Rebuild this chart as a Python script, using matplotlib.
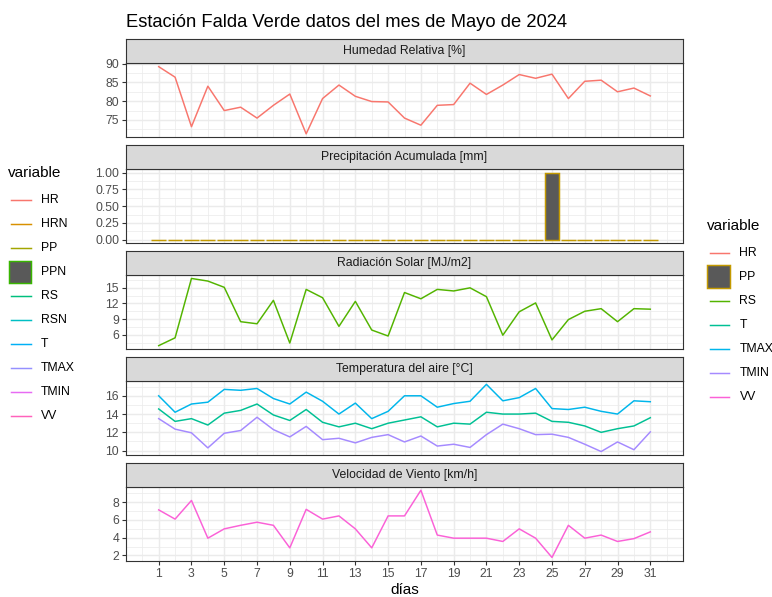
import matplotlib
matplotlib.use('Agg')
import matplotlib.pyplot as plt
from matplotlib.ticker import FixedLocator, MultipleLocator
from matplotlib.lines import Line2D
from matplotlib.patches import Rectangle

plt.rcParams['font.family'] = ['Liberation Sans', 'DejaVu Sans']

# ---------------- data ----------------
days = list(range(1, 32))
hr = [89.2, 86.4, 73.2, 84.0, 77.5, 78.4, 75.5, 78.9, 81.9, 71.3,
      80.7, 84.3, 81.3, 79.9, 79.8, 75.5, 73.6, 78.9, 79.1, 84.8,
      81.8, 84.3, 87.1, 86.1, 87.2, 80.7, 85.3, 85.6, 82.5, 83.5, 81.4]
pp = [0.0] * 24 + [1.0] + [0.0] * 6
rs = [3.9, 5.4, 16.8, 16.3, 15.1, 8.5, 8.1, 12.6, 4.4, 14.7,
      13.1, 7.6, 12.4, 6.9, 5.75, 14.1, 12.9, 14.7, 14.4, 15.0,
      13.3, 5.9, 10.4, 12.1, 5.0, 8.9, 10.5, 11.0, 8.5, 11.0, 10.9]
tmax = [16.0, 14.2, 15.1, 15.3, 16.7, 16.6, 16.8, 15.7, 15.1, 16.4,
        15.4, 14.0, 15.2, 13.5, 14.3, 16.0, 16.0, 14.75, 15.15, 15.4,
        17.25, 15.45, 15.8, 16.8, 14.6, 14.5, 14.75, 14.3, 14.0, 15.45, 15.35]
t = [14.56, 13.2, 13.5, 12.8, 14.1, 14.4, 15.1, 13.9, 13.3, 14.5,
     13.1, 12.6, 13.0, 12.4, 13.0, 13.35, 13.7, 12.6, 13.0, 12.9,
     14.2, 14.0, 14.0, 14.1, 13.2, 13.1, 12.7, 12.0, 12.4, 12.7, 13.6]
tmin = [13.5, 12.35, 11.95, 10.3, 11.9, 12.2, 13.65, 12.3, 11.5, 12.65,
        11.2, 11.35, 10.85, 11.45, 11.75, 10.95, 11.6, 10.5, 10.7, 10.35,
        11.75, 12.9, 12.4, 11.75, 11.8, 11.45, 10.7, 9.9, 10.95, 10.1, 12.05]
vv = [7.14, 6.1, 8.2, 3.95, 5.0, 5.4, 5.75, 5.4, 2.86, 7.2,
      6.1, 6.46, 5.0, 2.86, 6.46, 6.46, 9.35, 4.3, 3.95, 3.95,
      3.95, 3.58, 5.0, 3.95, 1.78, 5.4, 3.95, 4.3, 3.58, 3.9, 4.66]

panel_titles = ["Humedad Relativa [%]", "Precipitación Acumulada [mm]",
                "Radiación Solar [MJ/m2]", "Temperatura del aire [°C]",
                "Velocidad de Viento [km/h]"]
yticks = [[75, 80, 85, 90], [0.0, 0.25, 0.5, 0.75, 1.0], [6, 9, 12, 15],
          [10, 12, 14, 16], [2, 4, 6, 8]]
xticks = list(range(1, 32, 2))

left_vars = ['HR', 'HRN', 'PP', 'PPN', 'RS', 'RSN', 'T', 'TMAX', 'TMIN', 'VV']
left_cols = ['#F8766D', '#D89000', '#A3A500', '#39B600', '#00BF7D',
             '#00BFC4', '#00B0F6', '#9590FF', '#E76BF3', '#FF62BC']
right_vars = ['HR', 'PP', 'RS', 'T', 'TMAX', 'TMIN', 'VV']
right_cols = ['#F8766D', '#C49A00', '#53B400', '#00C094', '#00B6EB',
              '#A58AFF', '#FB61D7']
col = dict(zip(right_vars, right_cols))

# ---------------- layout ----------------
W, H = 772, 597
fig = plt.figure(figsize=(W / 100, H / 100), dpi=100)
fig.patch.set_facecolor('white')

L, R = 126, 683
top0, strip_h, panel_h, gap = 39.3, 24.0, 73.9, 8.0
BORDER = '#333333'
GRID = '#EBEBEB'
LW = 1.07


def fx(x):
    return x / W


def fy(y):
    return 1 - y / H


series = [
    [(hr, col['HR'])],
    None,
    [(rs, col['RS'])],
    [(tmax, col['TMAX']), (t, col['T']), (tmin, col['TMIN'])],
    [(vv, col['VV'])],
]

for i in range(5):
    st = top0 + i * (strip_h + panel_h + gap)
    pt = st + strip_h
    pb = pt + panel_h
    ax = fig.add_axes([fx(L), fy(pb), (R - L) / W, panel_h / H])
    sax = fig.add_axes([fx(L), fy(pt), (R - L) / W, strip_h / H])

    # strip
    sax.set_facecolor('#D9D9D9')
    sax.set_xticks([])
    sax.set_yticks([])
    for s in sax.spines.values():
        s.set_color(BORDER)
        s.set_linewidth(0.8)
    sax.text(0.5, 0.5, panel_titles[i], ha='center', va='center',
             size=8.8, color='#1A1A1A', transform=sax.transAxes)

    ax.set_axisbelow(True)
    if series[i] is None:
        ax.bar(days, pp, width=0.9, color='#595959', edgecolor=col['PP'],
               linewidth=LW, zorder=2)
        lo, hi = 0.0, max(pp)
    else:
        allv = []
        for vals, c in series[i]:
            ax.plot(days, vals, color=c, lw=LW, solid_joinstyle='round', zorder=2)
            allv += vals
        lo, hi = min(allv), max(allv)
    rng = hi - lo
    ax.set_ylim(lo - 0.05 * rng, hi + 0.05 * rng)
    ax.set_xlim(-0.995, 32.995)

    yt = yticks[i]
    step = yt[1] - yt[0]
    ax.yaxis.set_major_locator(FixedLocator(yt))
    ax.yaxis.set_minor_locator(MultipleLocator(step / 2))
    if i == 1:
        ax.set_yticklabels([f"{v:.2f}" for v in yt])
    else:
        ax.set_yticklabels([f"{v:g}" for v in yt])
    ax.xaxis.set_major_locator(FixedLocator(xticks))
    ax.xaxis.set_minor_locator(FixedLocator(list(range(0, 33, 2))))

    ax.grid(which='major', color=GRID, lw=LW)
    ax.grid(which='minor', color=GRID, lw=LW / 2)
    ax.tick_params(which='minor', length=0)
    ax.tick_params(which='major', length=2.75, width=0.8, color=BORDER,
                   labelsize=8.8, labelcolor='#4D4D4D', pad=2.2)
    for s in ax.spines.values():
        s.set_color(BORDER)
        s.set_linewidth(0.8)
    if i < 4:
        ax.tick_params(axis='x', which='both', bottom=False, labelbottom=False)
    else:
        ax.set_xticklabels([str(d) for d in xticks])

# titles
fig.text(fx(126.5), fy(27.3), "Estación Falda Verde datos del mes de Mayo de 2024",
         ha='left', va='baseline', size=13.2, color='black')
fig.text(fx((L + R) / 2), fy(590), "días", ha='center', va='center',
         size=11, color='black')


# ---------------- legends ----------------
def draw_legend(x0, title_y, first_y, names, colors, box_name):
    fig.text(fx(x0), fy(title_y), "variable", ha='left', va='center', size=11)
    for k, (n, c) in enumerate(zip(names, colors)):
        y = first_y + 24 * k
        if n == box_name:
            fig.add_artist(Rectangle((fx(x0 + 0.3), fy(y + 11.3)), 22.6 / W, 22.6 / H,
                                     facecolor='#595959', edgecolor=c, lw=LW,
                                     transform=fig.transFigure))
        else:
            fig.add_artist(Line2D([fx(x0 + 2.5), fx(x0 + 22.3)], [fy(y), fy(y)],
                                  color=c, lw=LW, transform=fig.transFigure))
        fig.text(fx(x0 + 32.5), fy(y), n, ha='left', va='center', size=8.8,
                 color='black')


draw_legend(8.3, 172.7, 200.0, left_vars, left_cols, 'PPN')
draw_legend(707.0, 226.0, 252.5, right_vars, right_cols, 'PP')

fig.savefig('out.png', dpi=100, facecolor='white')
